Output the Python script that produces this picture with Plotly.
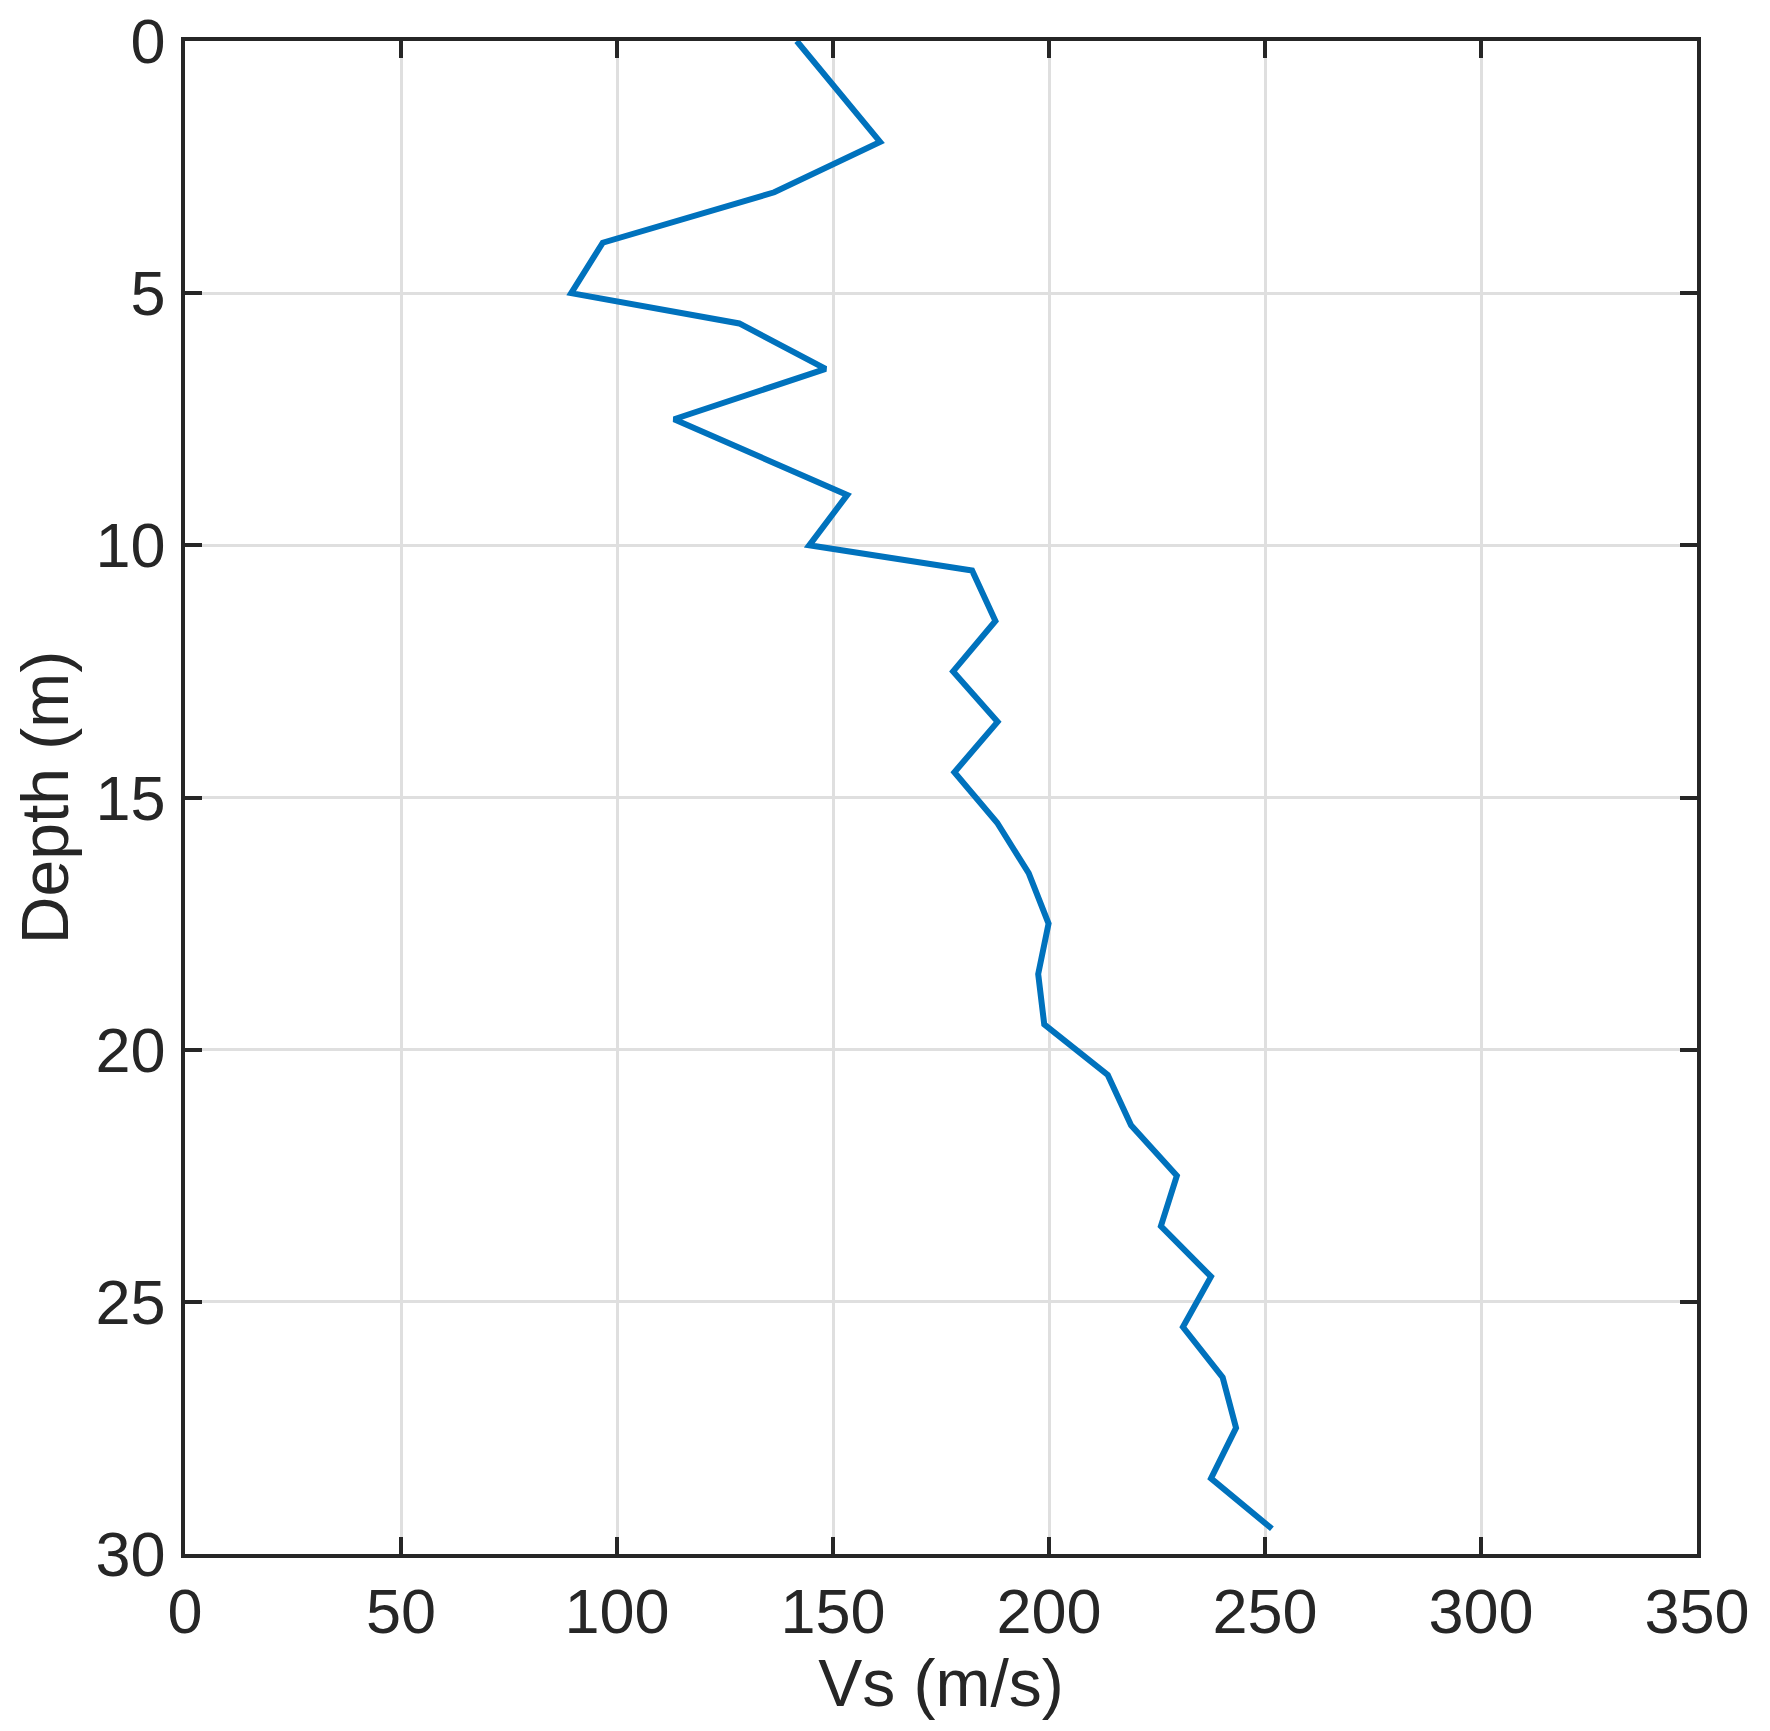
import plotly.graph_objects as go

# shear-wave velocity profile
DEPTH = [0, 2, 3, 4, 5, 5.6, 6.5, 7.5, 9, 10, 10.5, 11.5, 12.5, 13.5, 14.5, 15.5,
         16.5, 17.5, 18.5, 19.5, 20.5, 21.5, 22.5, 23.5, 24.5, 25.5, 26.5, 27.5,
         28.5, 29.5]
VS = [141.6, 160.9, 136.4, 96.7, 89.4, 128.3, 148.3, 113.2, 153.3, 144.5, 182.2,
      187.6, 177.8, 188.1, 178.1, 188.0, 195.3, 199.9, 197.5, 198.9, 213.6, 219.0,
      229.6, 225.9, 237.5, 231.0, 240.2, 243.3, 237.5, 251.6]

X_TICKS = [0, 50, 100, 150, 200, 250, 300, 350]
Y_TICKS = [0, 5, 10, 15, 20, 25, 30]

LINE = "#0072BD"
AXIS = "#262626"
GRID = "#DFDFDF"
FONT = "Liberation Sans, Arial, Helvetica, sans-serif"

fig = go.Figure(go.Scatter(
    x=VS, y=DEPTH, mode="lines",
    line=dict(color=LINE, width=6),
    showlegend=False,
))

axis_common = dict(
    showline=True, linecolor=AXIS, linewidth=3.5, mirror="ticks",
    ticks="inside", ticklen=17, tickwidth=3.5, tickcolor=AXIS,
    showgrid=True, gridcolor=GRID, gridwidth=3,
    zeroline=False, automargin=False, ticklabeloverflow="allow",
    tickfont=dict(family=FONT, size=63, color=AXIS),
)

fig.update_layout(
    width=1770, height=1731,
    margin=dict(l=177, r=81, t=33, b=185),
    plot_bgcolor="white", paper_bgcolor="white",
    font=dict(family=FONT, color=AXIS),
    xaxis=dict(
        range=[0, 350], tickvals=X_TICKS, ticklabelstandoff=0,
        title=dict(text="Vs (m/s)", font=dict(family=FONT, size=66, color=AXIS), standoff=2),
        **axis_common,
    ),
    yaxis=dict(
        range=[30, 0], tickvals=Y_TICKS, ticklabelstandoff=3,
        title=dict(text="Depth (m)", font=dict(family=FONT, size=66, color=AXIS), standoff=6),
        **axis_common,
    ),
)

fig.write_html("out.html")
